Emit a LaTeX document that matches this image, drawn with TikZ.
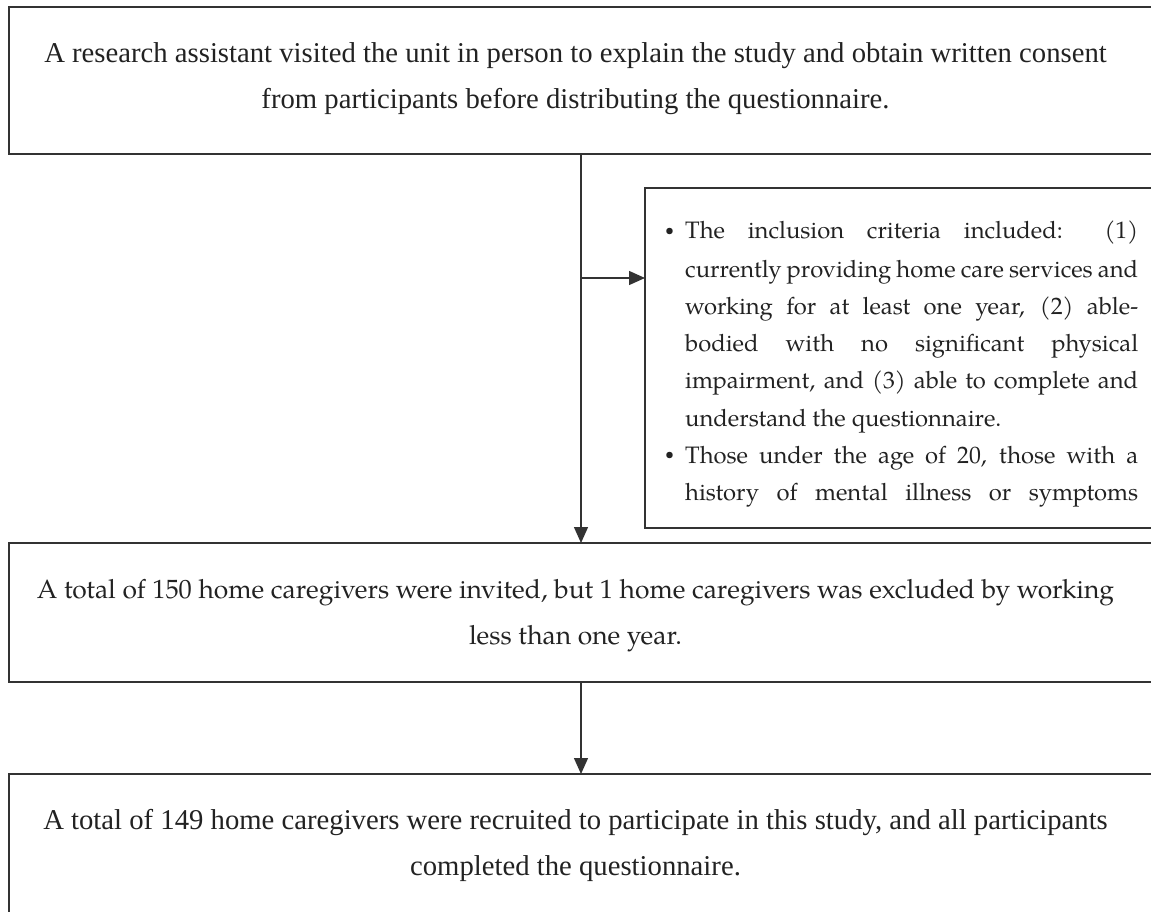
\documentclass[tikz,border=0pt]{standalone}
\usepackage{fontspec}
\setmainfont{Liberation Serif}
\newfontfamily\pal{TeX Gyre Pagella}
\usetikzlibrary{arrows.meta}
\definecolor{ink}{HTML}{222222}
\definecolor{frame}{HTML}{333333}
\tikzset{
  boxframe/.style={draw=frame, line width=2pt, inner sep=0pt, outer sep=0pt, anchor=north west},
  serifline/.style={anchor=base, inner sep=0pt, text=ink, font=\fontsize{28.7}{46}\selectfont},
  palline/.style={anchor=base, inner sep=0pt, text=ink, font=\pal\fontsize{26.4}{46}\selectfont},
  critline/.style={anchor=base west, inner sep=0pt, text=ink, font=\pal\fontsize{23.8}{37}\selectfont},
  conn/.style={draw=frame, line width=1.4pt},
  arr/.style={conn, -{Triangle[length=16pt,width=14pt]}}
}
\newcommand{\jl}[1]{\makebox[453pt][s]{#1}}
\newcommand{\bul}{\llap{\raisebox{3.5pt}{\fontsize{16}{16}\selectfont\textbullet}\hspace{11pt}}}
\begin{document}
\begin{tikzpicture}[x=1pt,y=-1pt]
\useasboundingbox (0,0) rectangle (1151,912);
\clip (0,0) rectangle (1151,912);
% boxes
\node[boxframe, minimum width=1200pt, minimum height=147pt] (b1) at (9,7) {};
\node[boxframe, minimum width=1200pt, minimum height=139pt] (b2) at (9,543) {};
\node[boxframe, minimum width=1200pt, minimum height=200pt] (b3) at (9,774) {};
\node[boxframe, minimum width=600pt, minimum height=340pt] (side) at (645,188) {};
% texts
\node[serifline] (t1a) at (575.5,63) {A research assistant visited the unit in person to explain the study and obtain written consent};
\node[serifline] (t1b) at (575.5,109) {from participants before distributing the questionnaire.};
\node[palline] (t2a) at (575.5,598) {A total of 150 home caregivers were invited, but 1 home caregivers was excluded by working};
\node[palline] (t2b) at (575.5,644) {less than one year.};
\node[serifline] (t3a) at (575.5,829) {A total of 149 home caregivers were recruited to participate in this study, and all participants};
\node[serifline] (t3b) at (575.5,875) {completed the questionnaire.};
% criteria
\node[critline] (c1) at (685,239) {\bul\jl{The inclusion criteria included: (1)}};
\node[critline] (c2) at (685,277) {\jl{currently providing home care services and}};
\node[critline] (c3) at (685,314) {\jl{working for at least one year, (2) able-}};
\node[critline] (c4) at (685,351) {\jl{bodied with no significant physical}};
\node[critline] (c5) at (685,388) {\jl{impairment, and (3) able to complete and}};
\node[critline] (c6) at (685,426) {understand the questionnaire.};
\node[critline] (c7) at (685,463) {\bul\jl{Those under the age of 20, those with a}};
\node[critline] (c8) at (685,500) {\jl{history of mental illness or symptoms}};
% connectors
\coordinate (vx) at (581,0);
\coordinate (ay) at (0,278);
\draw[arr] (b1.south -| vx) -- (b2.north -| vx);
\draw[arr] (ay -| vx) -- (ay -| side.west);
\draw[arr] (b2.south -| vx) -- (b3.north -| vx);
\end{tikzpicture}
\end{document}
